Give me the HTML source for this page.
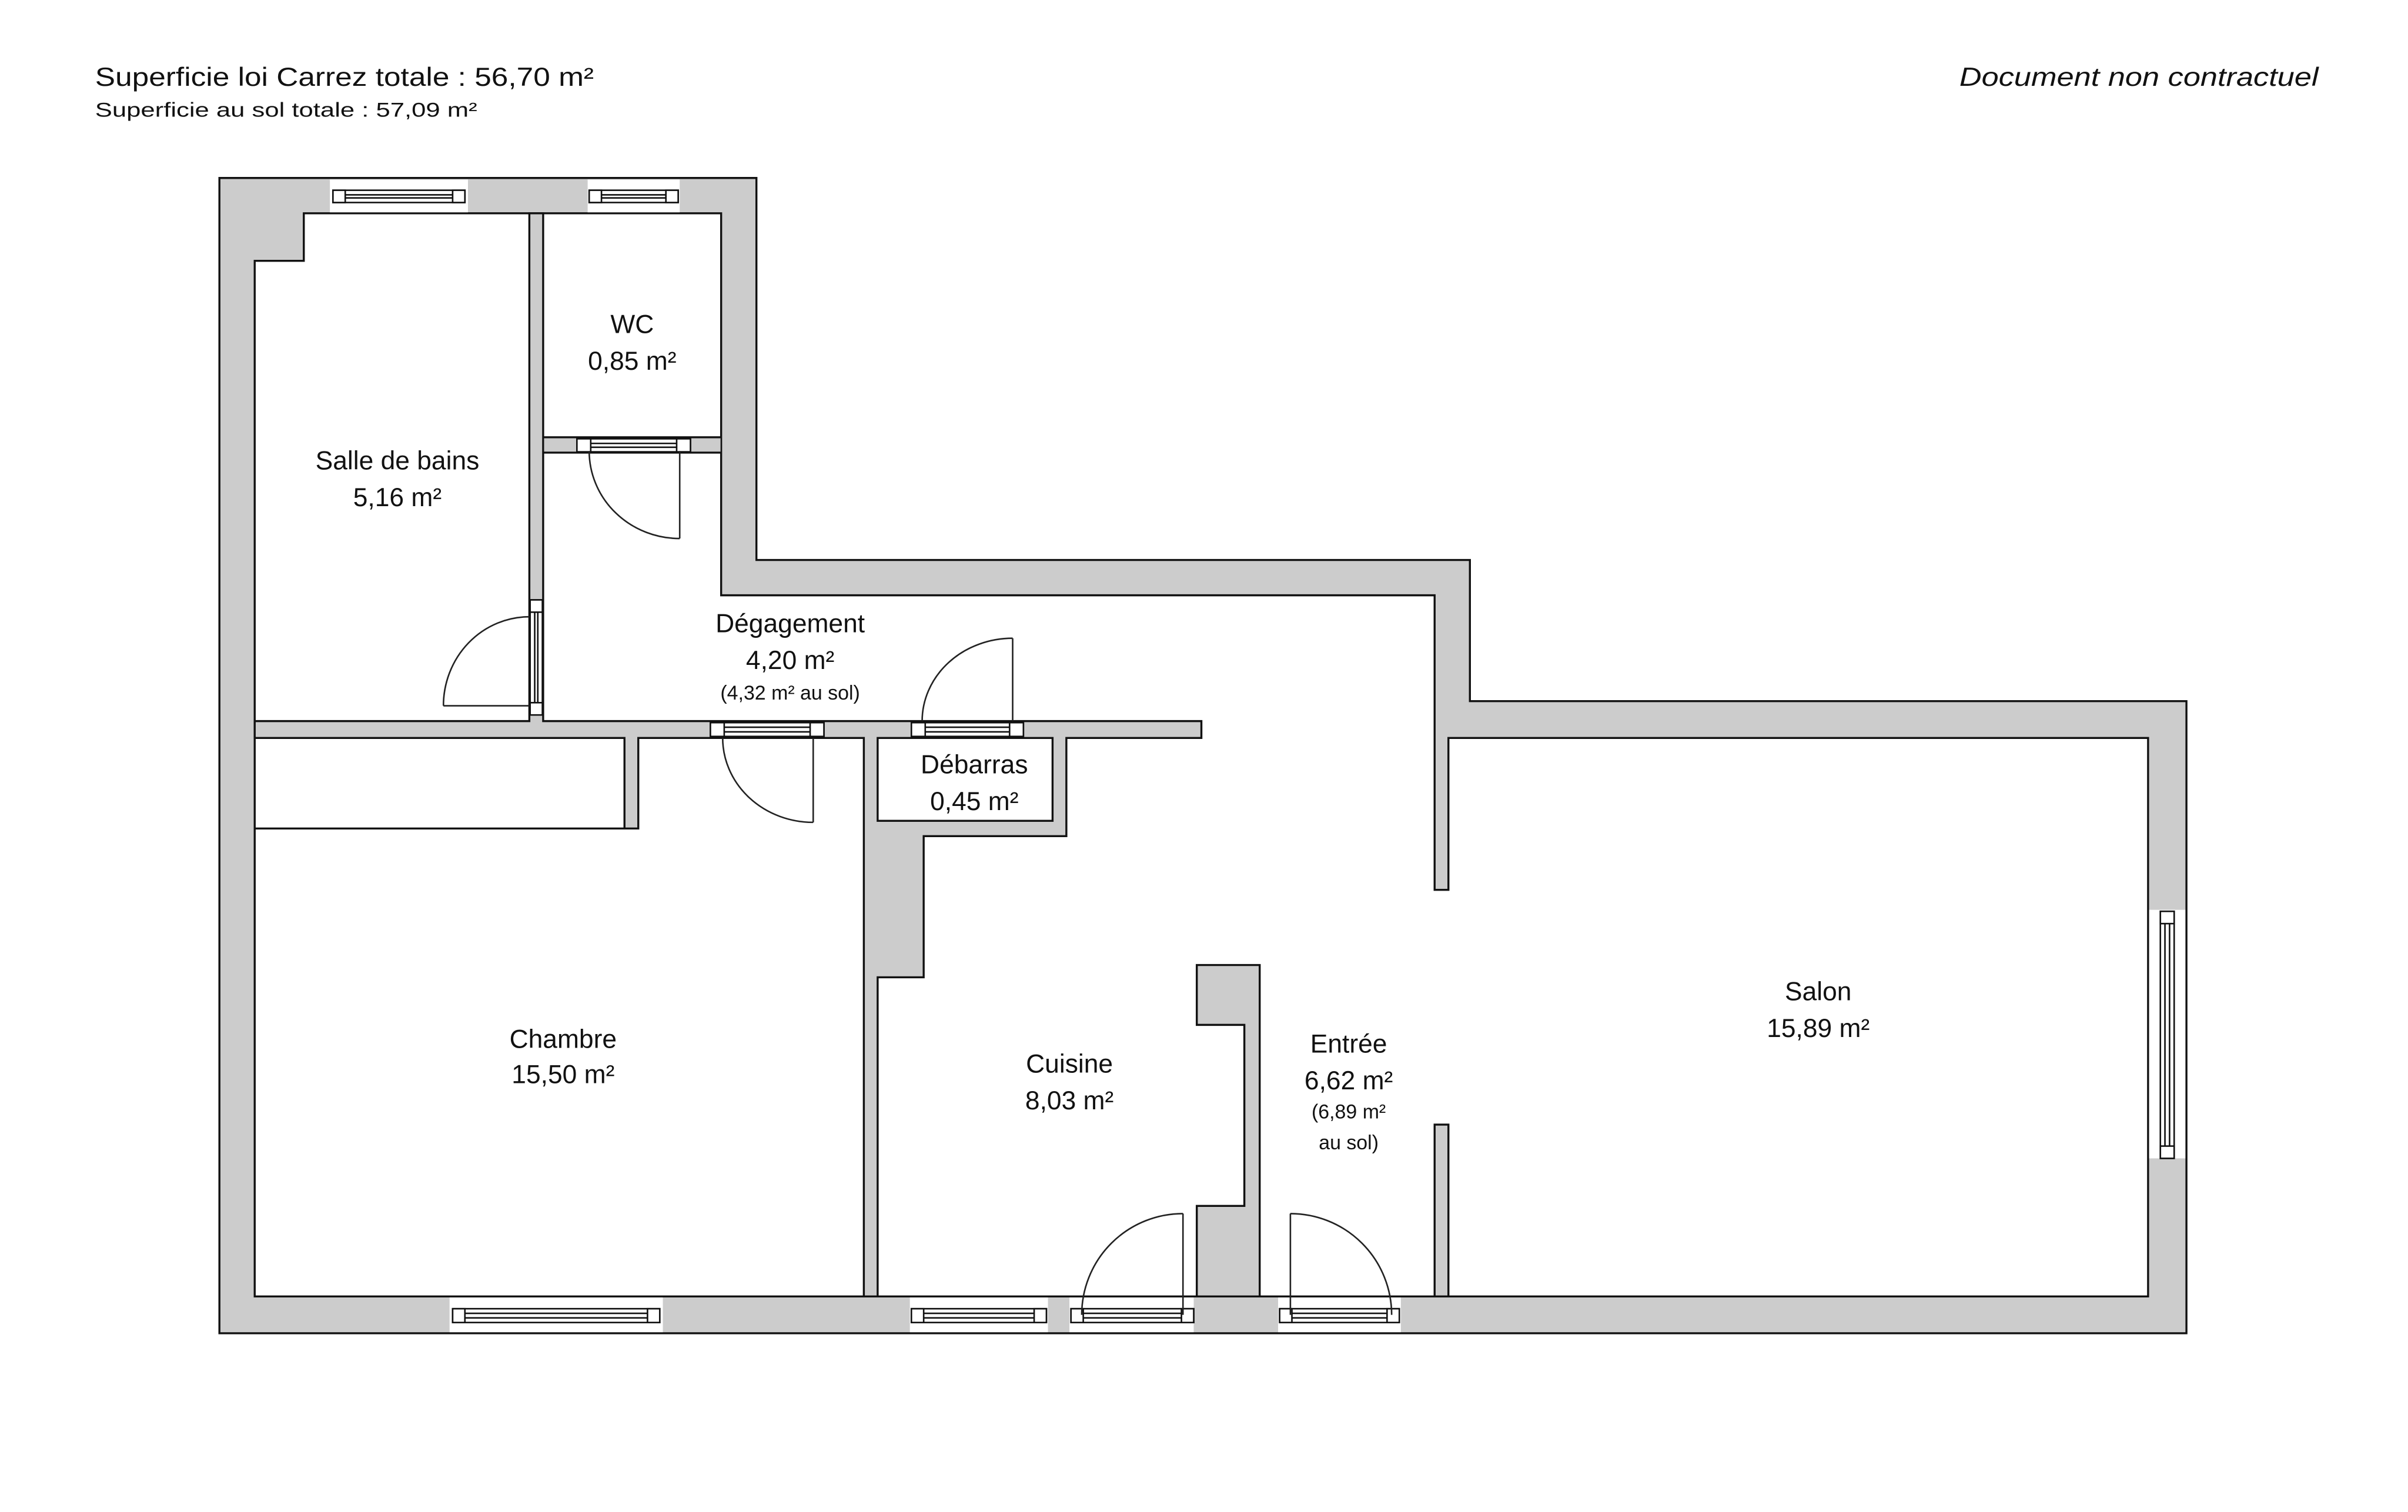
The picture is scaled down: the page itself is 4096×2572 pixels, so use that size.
<!DOCTYPE html>
<html><head><meta charset="utf-8"><style>
html,body{margin:0;padding:0;background:#fff;}
svg{display:block;}
text{font-family:"Liberation Sans Narrow","Liberation Sans",sans-serif;fill:#111;}
</style></head><body>
<svg width="4096" height="2572" viewBox="0 0 1569.4 985.5" preserveAspectRatio="none" xmlns="http://www.w3.org/2000/svg">
<rect x="0" y="0" width="1569.4" height="985.5" fill="#fff"/>
<g stroke="#111" stroke-width="1.3" stroke-linejoin="miter">
<!-- outer walls -->
<polygon points="143,116 493,116 493,365 958,365 958,457 1425,457 1425,869 143,869" fill="#cccccc"/>
<!-- interior -->
<polygon points="198,139 470,139 470,388 935,388 935,580 944,580 944,481 1400,481 1400,845 166,845 166,170 198,170" fill="#fff"/>
<!-- interior walls -->
<polygon points="345,139 354,139 354,470 783,470 783,481 695,481 695,545 602,545 602,637 572,637 572,845 563,845 563,481 416,481 416,540 407,540 407,481 166,481 166,470 345,470" fill="#cccccc"/>
<rect x="572" y="481" width="114" height="54" fill="#fff"/>
<line x1="166" y1="540" x2="407" y2="540"/>
<polygon points="780,629 821,629 821,845 780,845 780,786 811,786 811,668 780,668" fill="#cccccc"/>
<rect x="935" y="733" width="9" height="112" fill="#cccccc"/>
</g>
<!-- WC bottom wall -->
<rect x="354.6" y="285" width="115" height="10" fill="#cccccc"/>
<g stroke="#111" stroke-width="1.3">
<line x1="354" y1="285" x2="470" y2="285"/>
<line x1="354" y1="295" x2="470" y2="295"/>
</g>
<!-- window/door gaps -->
<g fill="#fff">
<rect x="215" y="117" width="90" height="21.4"/>
<rect x="383" y="117" width="60" height="21.4"/>
<rect x="293" y="845.7" width="139" height="22.6"/>
<rect x="593" y="845.7" width="90" height="22.6"/>
<rect x="697" y="845.7" width="81" height="22.6"/>
<rect x="833" y="845.7" width="80" height="22.6"/>
<rect x="1400.7" y="593" width="23.6" height="162"/>
</g>
<!-- frames -->
<g stroke="#111" stroke-width="1" fill="#fff">
<!-- horizontal frames: rect + end squares + inner lines -->
<g><rect x="217" y="124" width="86" height="8"/><rect x="217" y="124" width="8" height="8"/><rect x="295" y="124" width="8" height="8"/><line x1="225" y1="127" x2="295" y2="127"/><line x1="225" y1="129" x2="295" y2="129"/></g>
<g><rect x="384" y="124" width="58" height="8"/><rect x="384" y="124" width="8" height="8"/><rect x="434" y="124" width="8" height="8"/><line x1="392" y1="127" x2="434" y2="127"/><line x1="392" y1="129" x2="434" y2="129"/></g>
<g><rect x="376" y="286" width="74" height="8.5"/><rect x="376" y="286" width="9" height="8.5"/><rect x="441" y="286" width="9" height="8.5"/><line x1="385" y1="289" x2="441" y2="289"/><line x1="385" y1="291.5" x2="441" y2="291.5"/></g>
<g><rect x="463" y="471" width="74" height="9"/><rect x="463" y="471" width="9" height="9"/><rect x="528" y="471" width="9" height="9"/><line x1="472" y1="474" x2="528" y2="474"/><line x1="472" y1="477" x2="528" y2="477"/></g>
<g><rect x="594" y="471" width="73" height="9"/><rect x="594" y="471" width="9" height="9"/><rect x="658" y="471" width="9" height="9"/><line x1="603" y1="474" x2="658" y2="474"/><line x1="603" y1="477" x2="658" y2="477"/></g>
<g><rect x="295" y="853" width="135" height="9"/><rect x="295" y="853" width="8" height="9"/><rect x="422" y="853" width="8" height="9"/><line x1="303" y1="856" x2="422" y2="856"/><line x1="303" y1="859" x2="422" y2="859"/></g>
<g><rect x="594" y="853" width="88" height="9"/><rect x="594" y="853" width="8" height="9"/><rect x="674" y="853" width="8" height="9"/><line x1="602" y1="856" x2="674" y2="856"/><line x1="602" y1="859" x2="674" y2="859"/></g>
<g><rect x="698" y="853" width="80" height="9"/><rect x="698" y="853" width="8" height="9"/><rect x="770" y="853" width="8" height="9"/><line x1="706" y1="856" x2="770" y2="856"/><line x1="706" y1="859" x2="770" y2="859"/></g>
<g><rect x="834" y="853" width="78" height="9"/><rect x="834" y="853" width="8" height="9"/><rect x="904" y="853" width="8" height="9"/><line x1="842" y1="856" x2="904" y2="856"/><line x1="842" y1="859" x2="904" y2="859"/></g>
<!-- vertical frames -->
<g><rect x="345.5" y="391" width="8" height="75"/><rect x="345.5" y="391" width="8" height="8"/><rect x="345.5" y="458" width="8" height="8"/><line x1="348.5" y1="399" x2="348.5" y2="458"/><line x1="350.5" y1="399" x2="350.5" y2="458"/></g>
<g><rect x="1408" y="594" width="9" height="161"/><rect x="1408" y="594" width="9" height="8"/><rect x="1408" y="747" width="9" height="8"/><line x1="1411" y1="602" x2="1411" y2="747"/><line x1="1414" y1="602" x2="1414" y2="747"/></g>
</g>
<!-- door leaves & arcs -->
<g stroke="#222" stroke-width="1" fill="none">
<line x1="443" y1="294" x2="443" y2="351"/><path d="M384,294 A59,57 0 0 0 443,351"/>
<line x1="345" y1="460" x2="289" y2="460"/><path d="M289,460 A56,58 0 0 1 345,402"/>
<line x1="530" y1="481" x2="530" y2="536"/><path d="M471,481 A59,55 0 0 0 530,536"/>
<line x1="660" y1="470" x2="660" y2="416"/><path d="M601,470 A59,54 0 0 1 660,416"/>
<line x1="771" y1="857" x2="771" y2="791"/><path d="M705,857 A66,66 0 0 1 771,791"/>
<line x1="841" y1="857" x2="841" y2="791"/><path d="M907,857 A66,66 0 0 0 841,791"/>
</g>
<!-- header text -->
<text x="62" y="56" font-size="17" textLength="325" lengthAdjust="spacingAndGlyphs">Superficie loi Carrez totale :  56,70 m²</text>
<text x="62" y="76" font-size="13" textLength="249" lengthAdjust="spacingAndGlyphs">Superficie au sol totale :  57,09 m²</text>
<text x="1511" y="56" font-size="17" font-style="italic" text-anchor="end" textLength="234" lengthAdjust="spacingAndGlyphs">Document non contractuel</text>
<!-- room labels -->
<g font-size="17" text-anchor="middle">
<text x="412" y="217">WC</text><text x="412" y="241">0,85 m²</text>
<text x="259" y="306">Salle de bains</text><text x="259" y="330">5,16 m²</text>
<text x="515" y="412">Dégagement</text><text x="515" y="436">4,20 m²</text>
<text x="635" y="504">Débarras</text><text x="635" y="528">0,45 m²</text>
<text x="367" y="683">Chambre</text><text x="367" y="706">15,50 m²</text>
<text x="697" y="699">Cuisine</text><text x="697" y="723">8,03 m²</text>
<text x="879" y="686">Entrée</text><text x="879" y="710">6,62 m²</text>
<text x="1185" y="652">Salon</text><text x="1185" y="676">15,89 m²</text>
</g>
<g font-size="13" text-anchor="middle">
<text x="515" y="456">(4,32 m² au sol)</text>
<text x="879" y="729">(6,89 m²</text>
<text x="879" y="749">au sol)</text>
</g>
</svg>
</body></html>
